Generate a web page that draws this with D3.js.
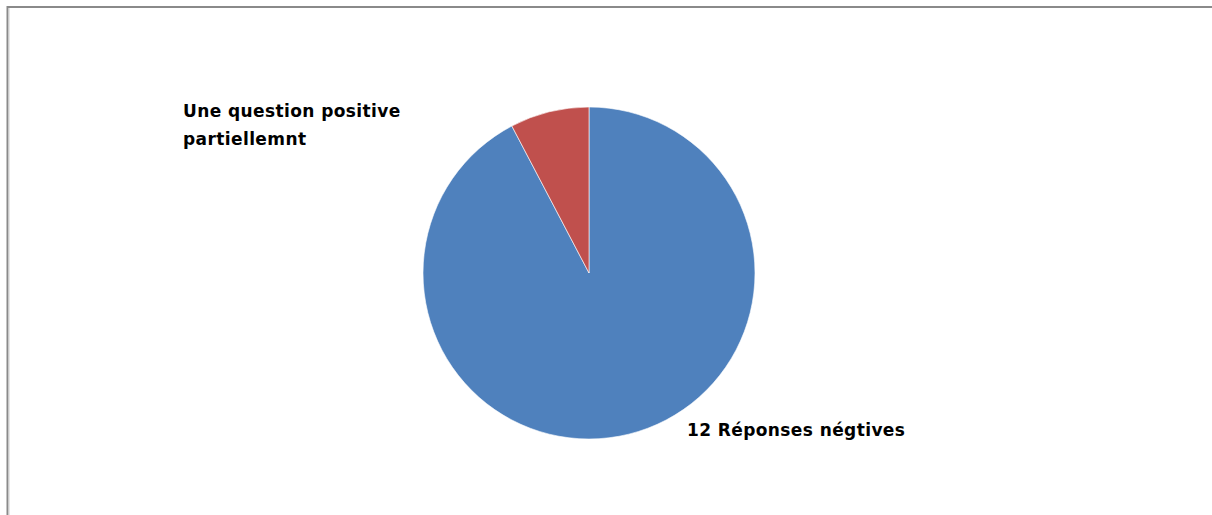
<!DOCTYPE html>
<html>
<head>
<meta charset="utf-8">
<script src="https://cdn.jsdelivr.net/npm/d3@7"></script>
<style>
  body { margin: 0; background: #fff; }
  .lbl { font-family: "Comic Sans MS", "DejaVu Sans", sans-serif; font-weight: bold; font-size: 17px; letter-spacing: 0.4px; fill: #000; }
</style>
</head>
<body>
<div id="chart"></div>
<script>
var svgWidth = 1212
var svgHeight = 515

var categories = ["12 Réponses négtives", "Une question positive partiellemnt"]
var values = [12, 1]
var colors = ["#4F81BD", "#C0504D"]

var svg = d3.select("#chart").append("svg").attr("width", svgWidth).attr("height", svgHeight)

// frame (chart area border, partly outside the window)
svg.append("line").attr("x1", 7).attr("y1", 7).attr("x2", svgWidth).attr("y2", 7)
    .attr("stroke", "#8a8a8a").attr("stroke-width", 2)
svg.append("line").attr("x1", 7.5).attr("y1", 6).attr("x2", 7.5).attr("y2", svgHeight)
    .attr("stroke", "#8a8a8a").attr("stroke-width", 2)
svg.append("line").attr("x1", 9).attr("y1", 8).attr("x2", 9).attr("y2", svgHeight)
    .attr("stroke", "#cfcfcf").attr("stroke-width", 1)

var cx = 589, cy = 273, radius = 166

var pie = d3.pie().sort(null).value(d => d)
var arc = d3.arc().innerRadius(0).outerRadius(radius)

var pieGroup = svg.append("g").attr("transform", `translate(${cx}, ${cy})`)

pieGroup.selectAll("path")
    .data(pie(values))
    .enter()
    .append("path")
    .attr("d", arc)
    .attr("fill", (d, i) => colors[i])
    .attr("stroke", "#fff")
    .attr("stroke-width", 0.6)

// labels
svg.append("text").attr("class", "lbl").attr("x", 687).attr("y", 436)
    .text(categories[0])

var lab2 = svg.append("text").attr("class", "lbl").attr("x", 183).attr("y", 117)
lab2.append("tspan").attr("x", 183).text("Une question positive")
lab2.append("tspan").attr("x", 183).attr("dy", 28).text("partiellemnt")
</script>
</body>
</html>
